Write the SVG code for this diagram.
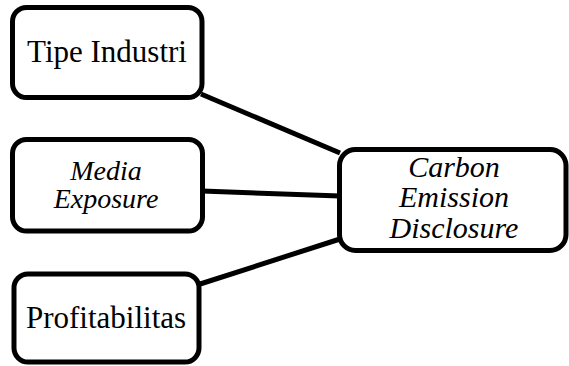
<svg xmlns="http://www.w3.org/2000/svg" width="569" height="366" viewBox="0 0 569 366">
<style>
.box{fill:#fff;stroke:#000;stroke-width:5}
.t{font-family:"Liberation Serif","Times New Roman",serif;fill:#000;text-anchor:middle}
.i{font-style:italic}
.conn line{stroke:#000;stroke-width:5}
</style>
<rect width="569" height="366" fill="#fff"/>
<g id="connectors" class="conn">
<line x1="201" y1="94" x2="340" y2="153"/>
<line x1="202" y1="191" x2="340" y2="196"/>
<line x1="197" y1="285" x2="340" y2="239"/>
</g>
<g id="tipe-industri">
<rect class="box" x="12.5" y="7.5" width="189.5" height="90" rx="14"/>
<text class="t" x="107" y="62" font-size="31">Tipe Industri</text>
</g>
<g id="media-exposure">
<rect class="box" x="12.5" y="139.5" width="190" height="91.5" rx="14"/>
<text class="t i" x="106" y="180" font-size="28">Media</text>
<text class="t i" x="106" y="208" font-size="28">Exposure</text>
</g>
<g id="profitabilitas">
<rect class="box" x="14" y="274" width="185" height="88" rx="14"/>
<text class="t" x="106" y="328" font-size="31">Profitabilitas</text>
</g>
<g id="carbon-emission-disclosure">
<rect class="box" x="339.5" y="149.5" width="226.5" height="101" rx="16"/>
<text class="t i" x="454" y="177" font-size="30">Carbon</text>
<text class="t i" x="454" y="207" font-size="30">Emission</text>
<text class="t i" x="454" y="238" font-size="30">Disclosure</text>
</g>
</svg>
